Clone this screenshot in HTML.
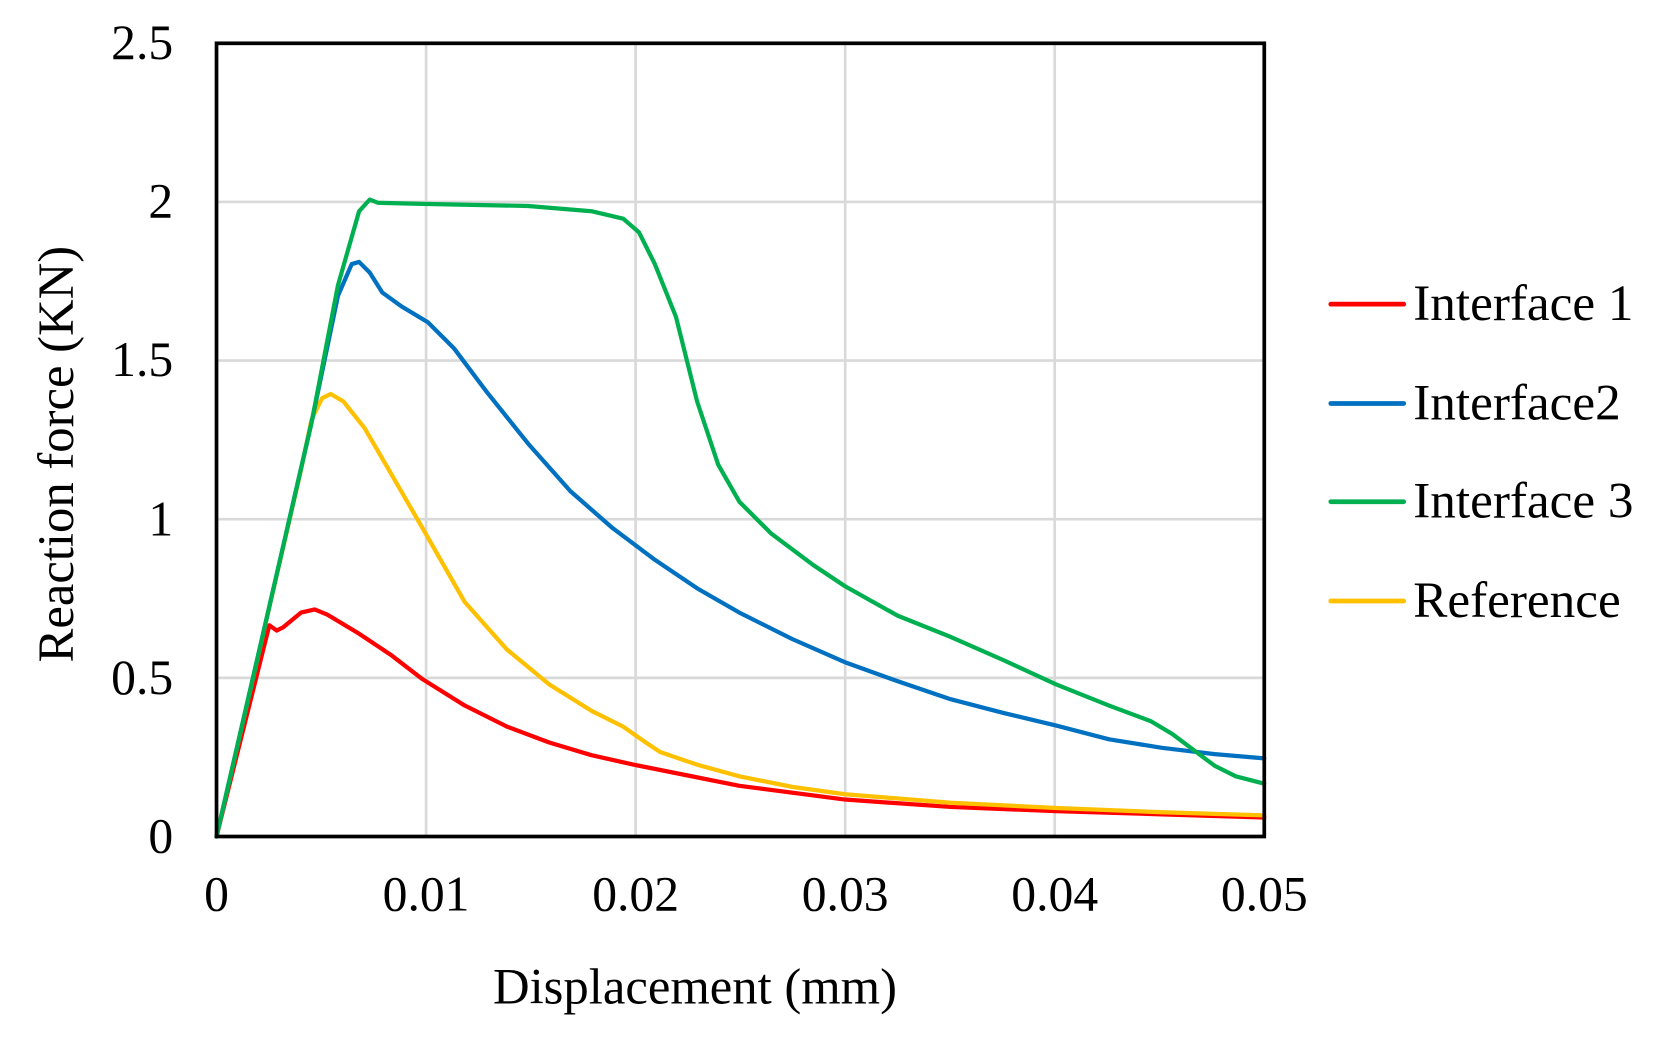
<!DOCTYPE html>
<html><head><style>html,body{margin:0;padding:0;background:#fff}svg{display:block}</style></head>
<body>
<svg width="1657" height="1037" viewBox="0 0 1657 1037" xmlns="http://www.w3.org/2000/svg" font-family="Liberation Serif, serif">
<rect width="1657" height="1037" fill="#fff"/>
<g transform="scale(1.0562)">
<g stroke="#d9d9d9" stroke-width="2.5">
<line x1="403.4" y1="41" x2="403.4" y2="792"/><line x1="601.8" y1="41" x2="601.8" y2="792"/>
<line x1="800.2" y1="41" x2="800.2" y2="792"/><line x1="998.6" y1="41" x2="998.6" y2="792"/>
<line x1="205" y1="191.2" x2="1197" y2="191.2"/><line x1="205" y1="341.4" x2="1197" y2="341.4"/>
<line x1="205" y1="491.6" x2="1197" y2="491.6"/><line x1="205" y1="641.8" x2="1197" y2="641.8"/>
</g>
<g fill="none" stroke-width="4" stroke-linejoin="round" stroke-linecap="round">
<polyline stroke="#ff0000" points="205,792 255,592 262,597 268,594 285,580 298,577 310,582 340,600 370,620 400,643 440,668 480,688 520,703 560,715 600,724 650,734 700,744 800,757 900,764 1000,768 1100,771 1197,774"/>
<polyline stroke="#ffc000" points="205,792 285,445 295,397 305,377 313,373 325,380 345,405 370,448 400,500 440,570 480,615 520,648 560,673 590,688 610,702 625,712 660,724 700,735 750,745 800,752 900,760 1000,765 1100,769 1197,772"/>
<polyline stroke="#0070c0" points="205,792 295,400 320,280 333,250 340,248 350,258 362,277 380,290 405,305 430,330 460,370 500,420 540,465 580,500 620,530 660,557 700,580 750,605 800,627 850,645 900,662 950,675 1000,687 1050,700 1100,708 1150,714 1197,718"/>
<polyline stroke="#00b050" points="205,792 295,400 320,270 340,200 350,189 358,192 400,193 500,195 560,200 590,207 605,220 620,250 640,300 660,380 680,440 700,475 730,505 770,535 800,555 850,583 900,603 950,625 1000,648 1050,668 1090,683 1110,695 1130,710 1150,725 1170,735 1197,742"/>
</g>
<rect x="205" y="41" width="992" height="751" fill="none" stroke="#000" stroke-width="3.5"/>
<g font-size="47" fill="#000" text-anchor="end">
<text x="164" y="807">0</text><text x="164" y="657">0.5</text><text x="164" y="507">1</text>
<text x="164" y="356">1.5</text><text x="164" y="206">2</text><text x="164" y="56">2.5</text>
</g>
<g font-size="47" fill="#000" text-anchor="middle">
<text x="205" y="862">0</text><text x="403.4" y="862">0.01</text><text x="601.8" y="862">0.02</text>
<text x="800.2" y="862">0.03</text><text x="998.6" y="862">0.04</text><text x="1197" y="862">0.05</text>
</g>
<text x="658" y="950" font-size="48" text-anchor="middle">Displacement (mm)</text>
<text transform="translate(69,430) rotate(-90)" font-size="48" text-anchor="middle">Reaction force (KN)</text>
<g stroke-width="4.5" stroke-linecap="round">
<line x1="1260" y1="288" x2="1329" y2="288" stroke="#ff0000"/>
<line x1="1260" y1="382" x2="1329" y2="382" stroke="#0070c0"/>
<line x1="1260" y1="475" x2="1329" y2="475" stroke="#00b050"/>
<line x1="1260" y1="569" x2="1329" y2="569" stroke="#ffc000"/>
</g>
<g font-size="48.5" fill="#000">
<text x="1338" y="303">Interface 1</text><text x="1338" y="397">Interface2</text>
<text x="1338" y="490">Interface 3</text><text x="1338" y="584">Reference</text>
</g>
</g>
</svg>
</body></html>
